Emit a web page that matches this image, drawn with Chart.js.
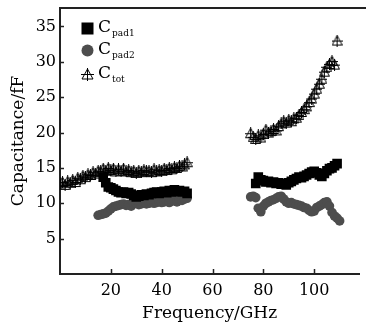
<!DOCTYPE html>
<html>
<head>
<meta charset="utf-8">
<script src="https://cdn.jsdelivr.net/npm/chart.js@4/dist/chart.umd.min.js"></script>
<style>
  body { margin: 0; background: #fff; }
  #wrap { position: relative; width: 366px; height: 327px; }
  .leg { position: absolute; left: 81px; font-family: "DejaVu Serif", serif; font-size: 17px; color: #000; line-height: 1; display: flex; align-items: center; }
  .leg sub { font-size: 9px; vertical-align: -4px; margin-left: 1px; }
  .mk { width: 13px; height: 13px; margin-right: 4px; display: inline-block; }
</style>
</head>
<body>
<div id="wrap">
  <canvas id="c" width="366" height="327"></canvas>
  <div class="leg" style="top:18px"><svg class="mk" viewBox="0 0 13 13"><rect x="0.5" y="0.5" width="12" height="12" fill="#000"/></svg><span>C<sub>pad1</sub></span></div>
  <div class="leg" style="top:40px"><svg class="mk" viewBox="0 0 13 13"><circle cx="6.5" cy="6.5" r="6" fill="#4d4d4d"/></svg><span>C<sub>pad2</sub></span></div>
  <div class="leg" style="top:64px"><svg class="mk" viewBox="0 0 13 13"><path d="M6.5 1 L1 11 L12 11 Z M6.5 0 L6.5 13 M0 6.5 L13 6.5" fill="none" stroke="#000" stroke-width="1"/></svg><span>C<sub>tot</sub></span></div>
</div>
<script>
// tick labels
const xTicks = [20, 40, 60, 80, 100];
const yTicks = [5, 10, 15, 20, 25, 30, 35];

// C_tot, low band and high band
const totFreqL = [0,1,2,3,4,5,6,7,8,9,10,11,12,13,14,15,16,17,18,19,20,21,22,23,24,25,26,27,28,29,30,31,32,33,34,35,36,37,38,39,40,41,42,43,44,45,46,47,48,49,50];
const totValL = [12.8,13.0,12.6,13.1,12.9,13.3,13.0,13.6,13.4,13.9,13.7,14.1,14.0,14.4,14.2,14.6,14.5,14.9,14.6,15.0,14.7,14.9,14.5,14.8,14.6,14.9,14.5,14.7,14.4,14.6,14.3,14.6,14.4,14.7,14.5,14.6,14.4,14.8,14.5,14.7,14.6,14.9,14.7,15.0,14.8,15.1,15.0,15.3,15.2,15.5,15.8];
const totFreqH = [75,76,77,78,79,80,81,82,83,84,85,86,87,88,89,90,91,92,93,94,95,96,97,98,99,100,101,102,103,104,105,106,107,108,109];
const totValH = [19.9,19.4,19.1,19.6,19.3,19.8,20.4,20.0,20.2,20.5,20.3,20.9,21.3,21.6,21.4,21.8,21.6,22.0,22.1,22.5,22.9,23.3,23.7,24.3,24.8,25.5,26.2,26.9,27.6,28.6,29.3,29.7,30.1,29.6,33.0];

// C_pad1
const pad1FreqL = [17,18,19,20,21,22,23,24,25,26,27,28,29,30,31,32,33,34,35,36,37,38,39,40,41,42,43,44,45,46,47,48,49,50];
const pad1ValL = [13.7,12.9,12.3,12.2,12.0,11.8,11.6,11.5,11.6,11.4,11.5,11.3,11.1,10.9,11.0,11.2,11.1,11.3,11.2,11.4,11.5,11.6,11.4,11.6,11.7,11.5,11.8,11.6,11.9,11.7,11.8,11.6,11.7,11.4];
const pad1FreqH = [77,78,79,80,81,82,83,84,85,86,87,88,89,90,91,92,93,94,95,96,97,98,99,100,101,102,103,104,105,106,107,108,109];
const pad1ValH = [12.8,13.7,13.3,13.2,13.0,13.1,12.9,13.0,12.8,12.9,12.7,12.8,12.6,12.9,13.1,13.3,13.5,13.7,13.6,13.8,14.0,14.2,14.4,14.5,14.3,14.0,13.8,14.2,14.6,14.9,15.0,15.3,15.6];

// C_pad2
const pad2FreqL = [15,16,17,18,19,20,21,22,23,24,25,26,27,28,29,30,31,32,33,34,35,36,37,38,39,40,41,42,43,44,45,46,47,48,49,50];
const pad2ValL = [8.3,8.4,8.5,8.6,8.9,9.2,9.5,9.6,9.7,9.8,9.9,9.7,9.8,9.6,9.9,10.0,9.8,9.9,10.1,9.9,10.0,10.2,10.0,10.1,10.3,10.1,10.2,10.3,10.1,10.3,10.4,10.2,10.5,10.4,10.6,10.7];
const pad2FreqH = [75,76,77,78,79,80,81,82,83,84,85,86,87,88,89,90,91,92,93,94,95,96,97,98,99,100,101,102,103,104,105,106,107,108,109,110];
const pad2ValH = [10.9,11.0,10.8,9.3,8.8,9.6,10.0,10.2,10.4,10.5,10.7,10.9,11.0,10.6,10.2,10.0,10.1,9.9,9.8,9.7,9.6,9.4,9.3,9.0,8.8,8.9,9.4,9.6,9.8,10.1,10.2,9.6,8.7,8.2,7.9,7.5];

function pts(xs, ys) {
    return xs.map((x, i) => ({ x: x, y: ys[i] }));
}

// triangle with a cross through it
const triMark = document.createElement('canvas');
triMark.width = 11;
triMark.height = 12;
(function () {
    const g = triMark.getContext('2d');
    g.strokeStyle = '#000';
    g.lineWidth = 1;
    g.beginPath();
    g.moveTo(5.5, 1); g.lineTo(0.5, 10.5); g.lineTo(10.5, 10.5); g.closePath();
    g.moveTo(5.5, 0); g.lineTo(5.5, 12);
    g.moveTo(0, 6.5); g.lineTo(11, 6.5);
    g.stroke();
})();

const FONT = { family: '"DejaVu Serif", serif', size: 16 };
const TITLE_FONT = { family: '"DejaVu Serif", serif', size: 17 };

// inward ticks and top frame line
const frame = {
    id: 'frame',
    afterDraw(chart) {
        const ctx = chart.ctx;
        const a = chart.chartArea;
        const xs = chart.scales.x, ys = chart.scales.y;
        ctx.save();
        ctx.strokeStyle = '#222';
        ctx.lineWidth = 2;
        ctx.beginPath();
        ctx.moveTo(a.left - 1, a.top);
        ctx.lineTo(chart.width, a.top);
        ctx.stroke();
        ctx.lineWidth = 1.5;
        ctx.beginPath();
        xTicks.forEach(v => {
            const px = Math.round(xs.getPixelForValue(v)) + 0.5;
            ctx.moveTo(px, a.bottom);
            ctx.lineTo(px, a.bottom - 5);
        });
        yTicks.forEach(v => {
            const py = Math.round(ys.getPixelForValue(v)) + 0.5;
            ctx.moveTo(a.left, py);
            ctx.lineTo(a.left + 4, py);
        });
        ctx.stroke();
        ctx.restore();
    }
};

const ctx = document.getElementById('c').getContext('2d');
new Chart(ctx, {
    type: 'scatter',
    data: {
        datasets: [
            { label: 'Ctot', data: pts(totFreqL, totValL).concat(pts(totFreqH, totValH)), pointStyle: triMark, radius: 5 },
            { label: 'Cpad1', data: pts(pad1FreqL, pad1ValL).concat(pts(pad1FreqH, pad1ValH)), pointStyle: 'rect', radius: 6.8, backgroundColor: '#000', borderWidth: 0 },
            { label: 'Cpad2', data: pts(pad2FreqL, pad2ValL).concat(pts(pad2FreqH, pad2ValH)), pointStyle: 'circle', radius: 4.8, backgroundColor: '#4d4d4d', borderWidth: 0 }
        ]
    },
    options: {
        responsive: false,
        animation: false,
        layout: { padding: { top: 8, right: 0, left: 0, bottom: 0 } },
        plugins: { legend: { display: false }, tooltip: { enabled: false } },
        scales: {
            x: {
                type: 'linear',
                min: 0,
                max: 117.7,
                afterBuildTicks: s => { s.ticks = xTicks.map(v => ({ value: v })); },
                afterFit: s => { s.height = 53; s.paddingRight = 0; s.paddingLeft = 0; },
                grid: { drawOnChartArea: false, drawTicks: false },
                border: { color: '#222', width: 2 },
                ticks: { color: '#000', font: FONT, padding: 7, maxRotation: 0 },
                title: { display: true, text: 'Frequency/GHz', color: '#000', font: TITLE_FONT, padding: { top: 0, bottom: 3 } }
            },
            y: {
                min: 0,
                max: 37.6,
                afterBuildTicks: s => { s.ticks = yTicks.map(v => ({ value: v })); },
                afterFit: s => { s.width = 60; s.paddingTop = 0; s.paddingBottom = 0; },
                grid: { drawOnChartArea: false, drawTicks: false },
                border: { color: '#222', width: 2 },
                ticks: { color: '#000', font: FONT, padding: 4 },
                title: { display: true, text: 'Capacitance/fF', color: '#000', font: TITLE_FONT, padding: { top: 8, bottom: 0 } }
            }
        }
    },
    plugins: [frame]
});
</script>
</body>
</html>
